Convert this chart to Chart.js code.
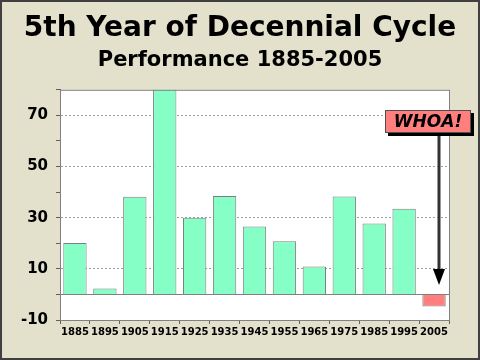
<!DOCTYPE html>
<html>
<head>
<meta charset="utf-8">
<script src="https://cdn.jsdelivr.net/npm/chart.js@4"></script>
<style>
html, body { margin: 0; padding: 0; background: #E3E1CB; }
#wrap { width: 480px; height: 360px; }
</style>
</head>
<body>
<div id="wrap"><canvas id="cycleChart" width="480" height="360"></canvas></div>
<script>
// Данные: годы и доходность (%)
const years = ['1885', '1895', '1905', '1915', '1925', '1935', '1945', '1955', '1965', '1975', '1985', '1995', '2005'];
const gains = [20.1, 2.3, 38.2, 81.7, 30.0, 38.5, 26.6, 20.8, 10.9, 38.3, 27.7, 33.5, -4.7];
const yLabelled = [-10, 10, 30, 50, 70];
const calloutText = 'WHOA!';

const barFill = gains.map(v => v < 0 ? '#FF7F7F' : '#86FFC6');

// Фон, рамка области графика и общая рамка
const framePlugin = {
    id: 'frame',
    beforeDraw(chart) {
        const { ctx, chartArea: a } = chart;
        ctx.save();
        ctx.fillStyle = '#E3E1CB';
        ctx.fillRect(0, 0, chart.width, chart.height);
        ctx.fillStyle = '#FFFFFF';
        ctx.fillRect(a.left, a.top, a.right - a.left, a.bottom - a.top);
        ctx.restore();
    },
    afterDraw(chart) {
        const { ctx, chartArea: a } = chart;
        ctx.save();
        ctx.strokeStyle = '#808080';
        ctx.lineWidth = 1;
        ctx.strokeRect(a.left + 0.5, a.top + 0.5, a.right - a.left, a.bottom - a.top);
        ctx.strokeStyle = '#404040';
        ctx.lineWidth = 2;
        ctx.strokeRect(1, 1, chart.width - 2, chart.height - 2);
        ctx.restore();
    }
};

// Надпись WHOA! со стрелкой к последнему столбцу
const calloutPlugin = {
    id: 'callout',
    afterDraw(chart) {
        const { ctx } = chart;
        const xs = chart.scales.x, ys = chart.scales.y;
        const ax = Math.round(xs.getPixelForValue(years.length - 1)) + 5;
        const boxTop = Math.round(ys.getPixelForValue(72));
        const boxBottom = Math.round(ys.getPixelForValue(63));
        const tipY = Math.round(ys.getPixelForValue(3.5));
        const boxW = 86;
        const boxL = ax - 54;
        ctx.save();
        // стрелка
        ctx.strokeStyle = '#333333';
        ctx.lineWidth = 3;
        ctx.beginPath();
        ctx.moveTo(ax, boxBottom);
        ctx.lineTo(ax, tipY - 12);
        ctx.stroke();
        ctx.fillStyle = '#000000';
        ctx.beginPath();
        ctx.moveTo(ax - 6, tipY - 16);
        ctx.lineTo(ax + 6, tipY - 16);
        ctx.lineTo(ax, tipY);
        ctx.closePath();
        ctx.fill();
        // тень и коробка
        ctx.fillStyle = '#000000';
        ctx.fillRect(boxL + 3, boxTop + 3, boxW, boxBottom - boxTop);
        ctx.fillStyle = '#FF7F7F';
        ctx.fillRect(boxL, boxTop, boxW, boxBottom - boxTop);
        ctx.strokeStyle = '#505050';
        ctx.lineWidth = 1;
        ctx.strokeRect(boxL + 0.5, boxTop + 0.5, boxW - 1, boxBottom - boxTop - 1);
        ctx.fillStyle = '#000000';
        ctx.font = 'italic bold 17px "DejaVu Sans"';
        ctx.textAlign = 'center';
        ctx.textBaseline = 'middle';
        ctx.fillText(calloutText, boxL + boxW / 2, (boxTop + boxBottom) / 2 + 1);
        ctx.restore();
    }
};

const ctx = document.getElementById('cycleChart').getContext('2d');
const chart = new Chart(ctx, {
    type: 'bar',
    data: {
        labels: years,
        datasets: [{
            data: gains,
            backgroundColor: barFill,
            borderColor: '#7F7F7F',
            borderWidth: 1,
            barPercentage: 0.78,
            categoryPercentage: 1.0
        }]
    },
    options: {
        responsive: false,
        animation: false,
        layout: { padding: 0 },
        plugins: {
            legend: { display: false },
            tooltip: { enabled: false },
            title: {
                display: true,
                text: '5th Year of Decennial Cycle',
                color: '#000000',
                font: { family: 'DejaVu Sans', size: 28, weight: 'bold', lineHeight: 1.2 },
                padding: { top: 12, bottom: 2 }
            },
            subtitle: {
                display: true,
                text: 'Performance 1885-2005',
                color: '#000000',
                font: { family: 'DejaVu Sans', size: 21, weight: 'bold', lineHeight: 1.2 },
                padding: { top: 0, bottom: 17 }
            }
        },
        scales: {
            x: {
                afterFit(scale) { scale.height = 40; },
                grid: {
                    offset: true,
                    drawOnChartArea: false,
                    tickLength: 4,
                    tickColor: '#606060'
                },
                border: { color: '#606060', width: 1 },
                ticks: {
                    color: '#000000',
                    padding: 2,
                    maxRotation: 0,
                    autoSkip: false,
                    font: { family: 'DejaVu Sans', size: 10, weight: 'bold' }
                }
            },
            y: {
                min: -10,
                max: 80,
                afterFit(scale) { scale.width = 60; },
                grid: {
                    tickLength: 4,
                    tickColor: '#606060',
                    color(c) {
                        const v = c.tick ? c.tick.value : null;
                        if (v === 0) return '#808080';
                        if (yLabelled.includes(v) && v > -10) return '#A0A0A0';
                        return 'rgba(0,0,0,0)';
                    }
                },
                border: {
                    color: '#606060',
                    dash(c) {
                        const v = c.tick ? c.tick.value : null;
                        return v === 0 ? [] : [2, 2];
                    }
                },
                ticks: {
                    stepSize: 10,
                    color: '#000000',
                    padding: 8,
                    font: { family: 'DejaVu Sans', size: 15, weight: 'bold' },
                    callback: v => yLabelled.includes(v) ? String(v) : ''
                }
            },
            // пустая правая ось — отступ справа от области графика
            yRight: {
                position: 'right',
                afterFit(scale) { scale.width = 31; },
                grid: { display: false },
                border: { display: false },
                ticks: { display: false }
            }
        }
    },
    plugins: [framePlugin, calloutPlugin]
});
</script>
</body>
</html>
